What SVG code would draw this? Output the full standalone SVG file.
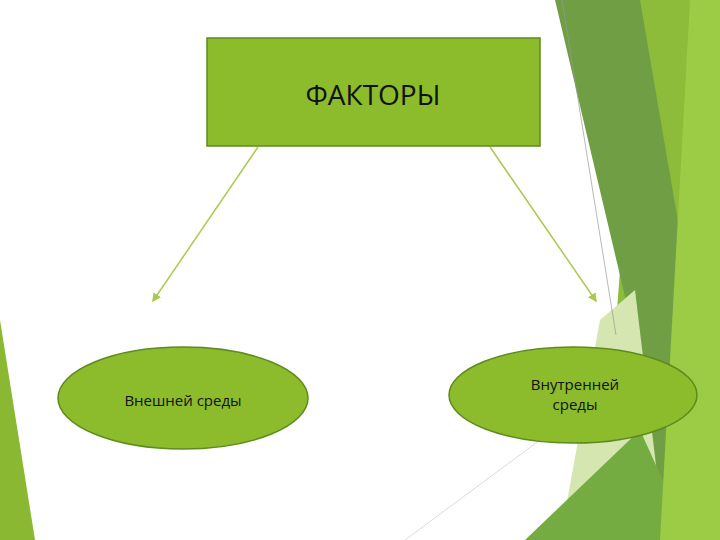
<svg xmlns="http://www.w3.org/2000/svg" width="720" height="540" viewBox="0 0 720 540">
<style>
.n{fill:#8cbb2c;stroke:#5f8a1e;stroke-width:1.5}
.t{font-family:"Open Sans","DejaVu Sans",sans-serif;fill:#111}
.c{stroke:#a9c94f;stroke-width:1.5;fill:none;marker-end:url(#a)}
</style>
<defs><marker id="a" markerWidth="6" markerHeight="6" refX="5" refY="3" orient="auto"><path d="M0,0L6,3L0,6z" fill="#a9c94f"/></marker></defs>
<rect width="720" height="540" fill="#fff"/>
<g id="bg">
<polygon points="0,320 35,540 0,540" fill="#8ab833"/>
<polygon points="640,0 720,0 720,540 600,540" fill="#8dbb3a"/>
<polygon points="555,0 640,0 700,350 660,540 600,540 640,360" fill="#6f9e44"/>
<polygon points="600,320 635,290 665,540 560,540" fill="#d5e6b0"/>
<polygon points="525,540 640,430 690,540" fill="#74ac42"/>
<polygon points="690,0 720,0 720,540 660,540" fill="#9ccb45"/>
<line x1="562" y1="0" x2="616" y2="335" stroke="#999" stroke-width="0.7"/>
<line x1="405" y1="540" x2="540" y2="440" stroke="#ccc" stroke-width="0.7"/>
</g>
<g id="connectors">
<line class="c" x1="258" y1="147" x2="153" y2="301"/>
<line class="c" x1="490" y1="147" x2="596" y2="301"/>
</g>
<g id="factors"><rect class="n" x="207" y="38" width="333" height="108"/>
<text class="t" x="373" y="105" font-size="28" text-anchor="middle">ФАКТОРЫ</text></g>
<g id="external"><ellipse class="n" cx="183" cy="398" rx="125" ry="51"/>
<text class="t" x="183" y="406" font-size="15" text-anchor="middle">Внешней среды</text></g>
<g id="internal"><ellipse class="n" cx="573" cy="395" rx="124" ry="48"/>
<text class="t" x="575" y="390" font-size="15" text-anchor="middle">Внутренней</text>
<text class="t" x="575" y="410" font-size="15" text-anchor="middle">среды</text></g>
</svg>
